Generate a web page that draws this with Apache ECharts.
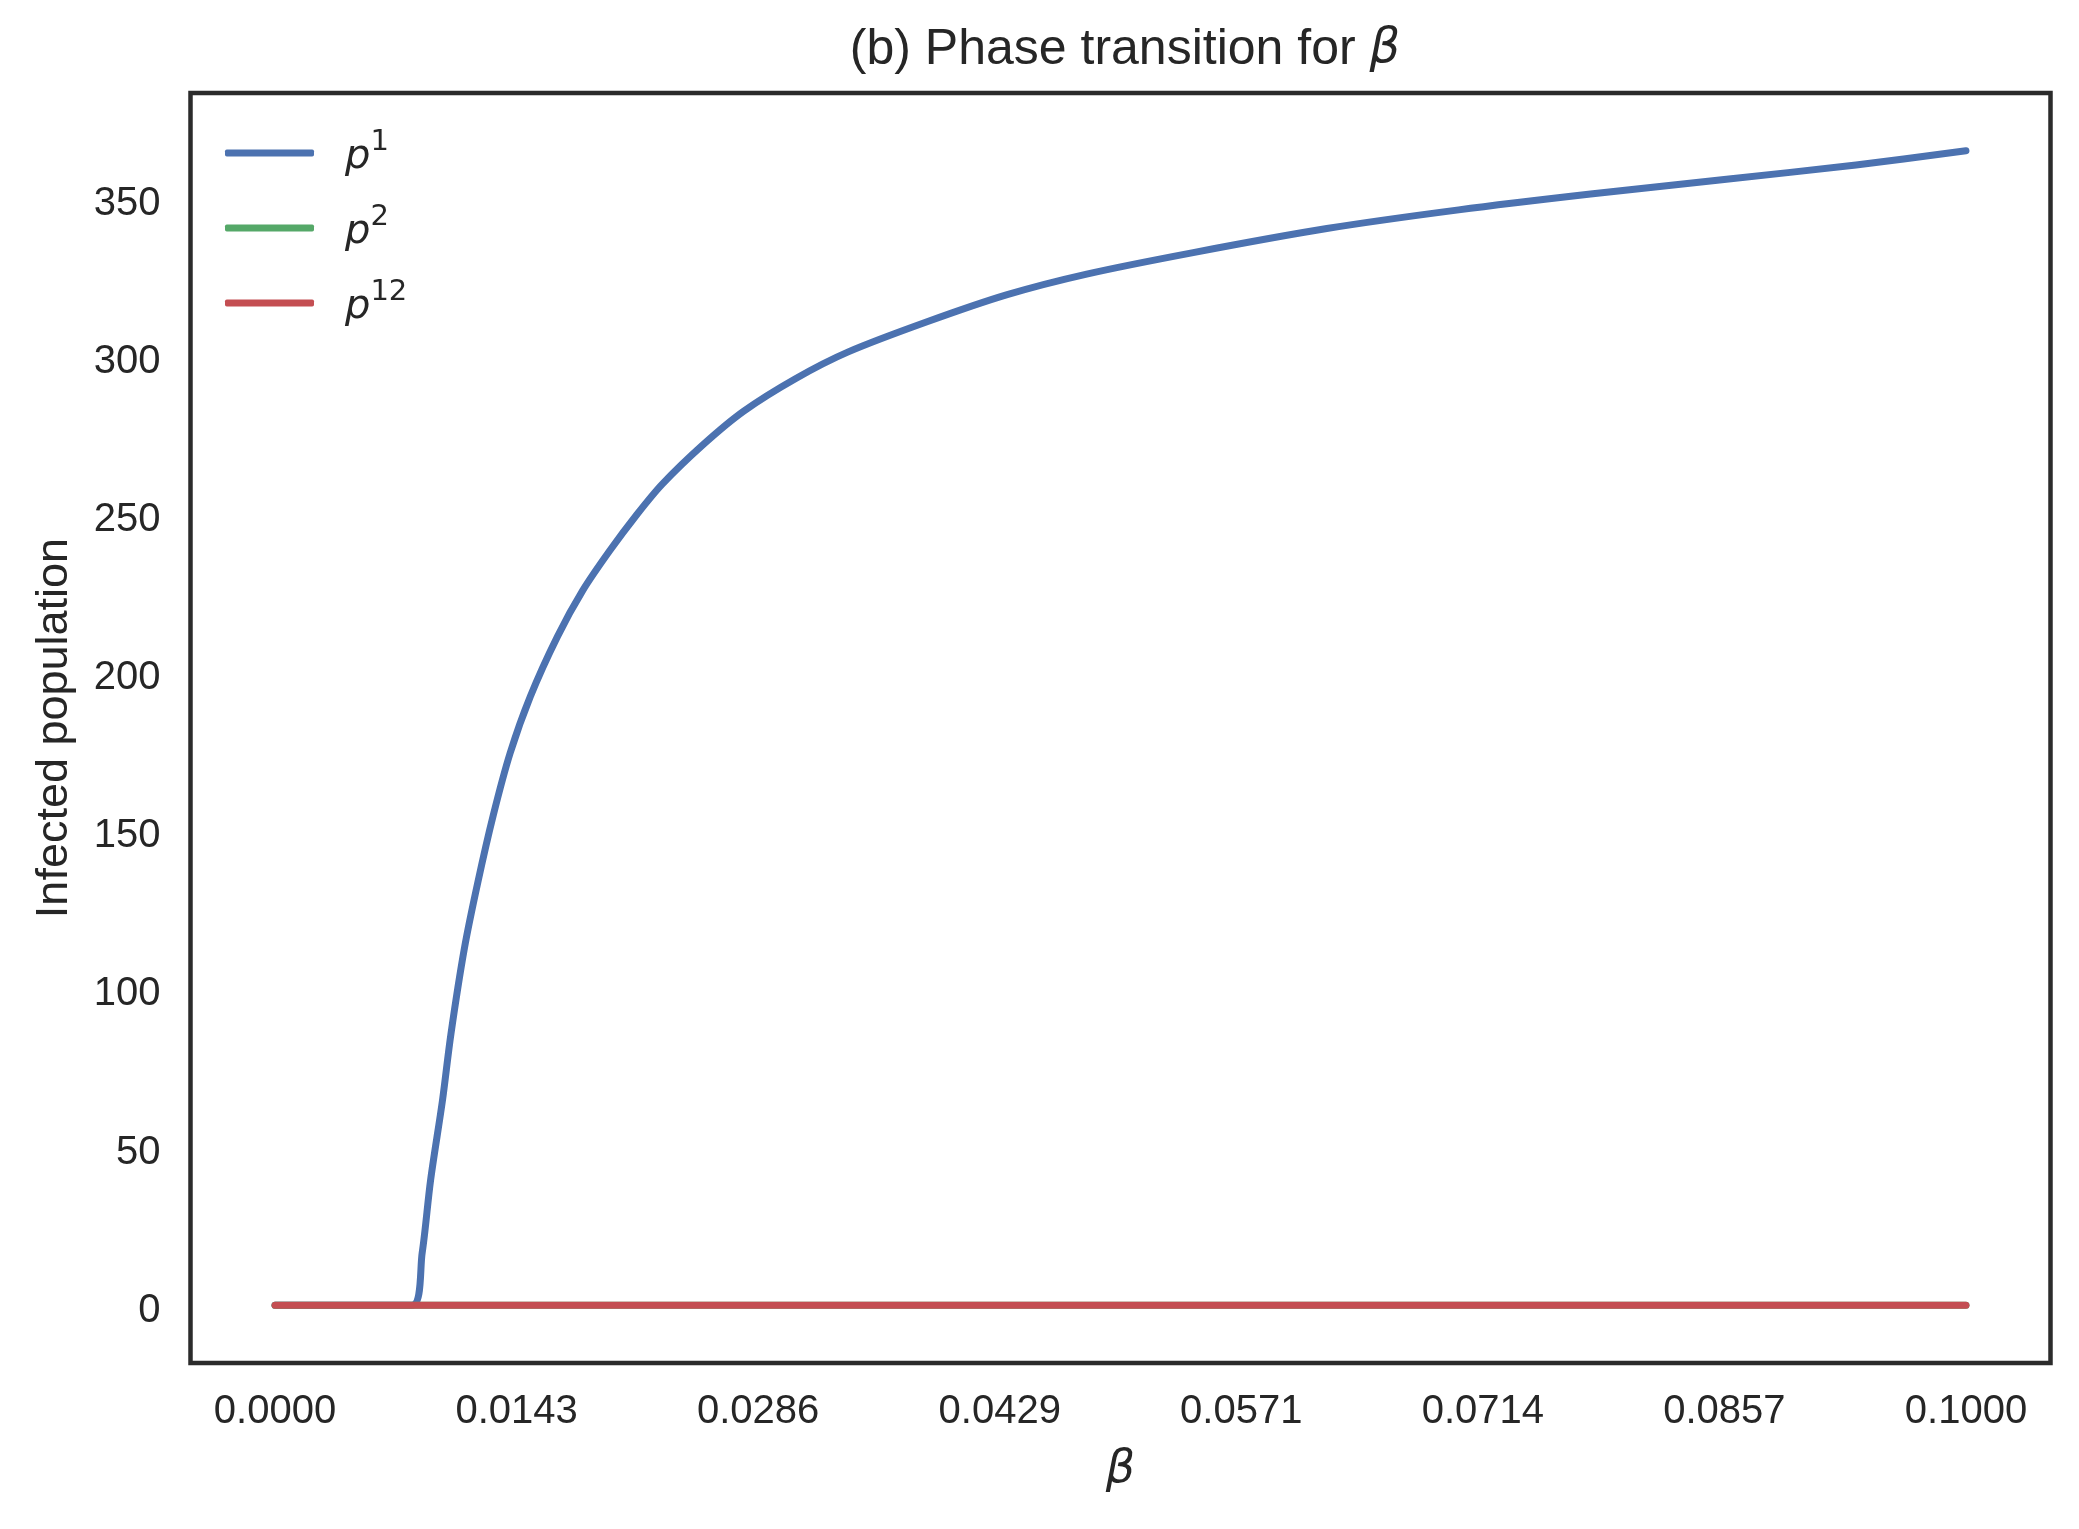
<!DOCTYPE html>
<html>
<head>
<meta charset="utf-8">
<script src="https://cdn.jsdelivr.net/npm/echarts@6/dist/echarts.min.js"></script>
<style>
  html, body { margin: 0; padding: 0; background: #fff; }
  #main { width: 2079px; height: 1529px; }
</style>
</head>
<body>
<div id="main"></div>
<script>
// 数据
var betaValues = [0, 0.0081, 0.0087, 0.0092, 0.0099, 0.0104, 0.0112, 0.0120, 0.0129, 0.0139, 0.0151,
    0.0167, 0.0182, 0.0198, 0.0214, 0.0229, 0.0253, 0.0277, 0.0308, 0.0339, 0.0386, 0.0433,
    0.0480, 0.0543, 0.0622, 0.0700, 0.0778, 0.0857, 0.0935, 0.1000];
var p1Values = [0, 0, 16.5, 39.6, 64.7, 85.7, 112.9, 133.9, 154.8, 174.5, 192.5,
    211.4, 226.0, 238.6, 250.0, 259.6, 272.0, 282.6, 293.0, 301.4, 311.0, 319.5,
    326.0, 332.8, 340.4, 346.3, 351.3, 355.9, 360.5, 365.0];
var zeroBeta = [0, 0.1];
var p2Values = [0, 0];
var p12Values = [0, 0];
var xTicks = [0, 0.1 / 7, 0.2 / 7, 0.3 / 7, 0.4 / 7, 0.5 / 7, 0.6 / 7, 0.1];
var yTicks = [0, 50, 100, 150, 200, 250, 300, 350];
var seriesNames = ['p1', 'p2', 'p12'];
var supText = { p1: '1', p2: '2', p12: '12' };

function pairs(xs, ys) {
    var d = [];
    for (var i = 0; i < xs.length; i++) d.push([xs[i], ys[i]]);
    return d;
}

var myChart = echarts.init(document.getElementById('main'));
var textColor = '#262626';

var lineSeries = function(name, color, xs, ys) {
    return {
        name: name,
        type: 'line',
        symbol: 'none',
        animation: false,
        smooth: 0.3,
        lineStyle: { color: color, width: 7, cap: 'round', join: 'round' },
        itemStyle: { color: color },
        data: pairs(xs, ys)
    };
};

var option = {
    backgroundColor: '#ffffff',
    title: {
        text: '{n|(b) Phase transition for }{b|β}',
        left: 1120,
        textAlign: 'center',
        top: 20,
        textStyle: {
            fontWeight: 'normal',
            rich: {
                n: { fontFamily: 'Liberation Sans', fontWeight: 'normal', fontSize: 50, color: textColor },
                b: { fontFamily: 'DejaVu Sans', fontWeight: 'normal', fontStyle: 'italic', fontSize: 48, color: textColor }
            }
        }
    },
    legend: {
        orient: 'vertical',
        left: 225,
        top: 128,
        padding: 0,
        icon: 'roundRect',
        itemWidth: 89,
        itemHeight: 7,
        itemGap: 25,
        data: seriesNames,
        formatter: function(name) {
            return '{i|p}{s|' + supText[name] + '}';
        },
        textStyle: {
            rich: {
                i: { fontFamily: 'DejaVu Sans', fontStyle: 'italic', fontSize: 40, color: textColor,
                     padding: [0, 0, 0, 26], lineHeight: 50, verticalAlign: 'bottom' },
                s: { fontFamily: 'DejaVu Sans', fontSize: 29, color: textColor,
                     lineHeight: 50, verticalAlign: 'top' }
            }
        }
    },
    grid: {
        left: 190.5,
        right: 28.5,
        top: 93,
        bottom: 166,
        show: true,
        borderColor: '#2b2b2b',
        borderWidth: 4.5,
        backgroundColor: '#ffffff'
    },
    xAxis: {
        type: 'value',
        min: -0.005,
        max: 0.105,
        name: 'β',
        nameLocation: 'middle',
        nameGap: 84,
        nameTextStyle: { fontFamily: 'DejaVu Sans', fontStyle: 'italic', fontSize: 46, color: textColor },
        axisLine: { show: false },
        axisTick: { show: false },
        splitLine: { show: false },
        axisLabel: {
            customValues: xTicks,
            margin: 29,
            fontFamily: 'Liberation Sans',
            fontSize: 40,
            color: textColor,
            formatter: function(v) { return v.toFixed(4); }
        }
    },
    yAxis: {
        type: 'value',
        min: -18.25,
        max: 383.25,
        name: 'Infected population',
        nameLocation: 'middle',
        nameGap: 113,
        nameTextStyle: { fontFamily: 'Liberation Sans', fontSize: 45, color: textColor },
        axisLine: { show: false },
        axisTick: { show: false },
        splitLine: { show: false },
        axisLabel: {
            customValues: yTicks,
            margin: 30,
            formatter: function(v) { return '{a|' + v + '}'; },
            rich: {
                a: { fontFamily: 'Liberation Sans', fontSize: 40, color: textColor, padding: [11, 0, 0, 0] }
            }
        }
    },
    series: [
        lineSeries('p1', '#4C72B0', betaValues, p1Values),
        lineSeries('p2', '#55A868', zeroBeta, p2Values),
        lineSeries('p12', '#C44E52', zeroBeta, p12Values)
    ]
};

myChart.setOption(option);
</script>
</body>
</html>
